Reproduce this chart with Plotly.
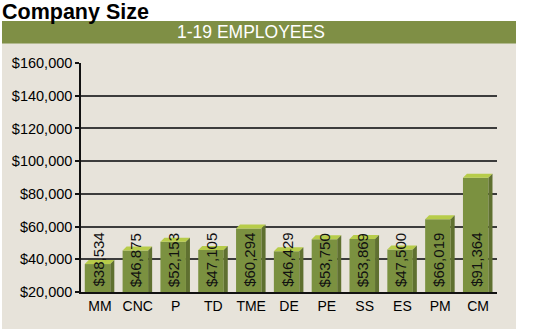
import plotly.graph_objects as go

categories = ["MM", "CNC", "P", "TD", "TME", "DE", "PE", "SS", "ES", "PM", "CM"]
salaries = [38534, 46875, 52153, 47105, 60294, 46429, 53750, 53869, 47500, 66019, 91364]
value_labels = ["$38,534", "$46,875", "$52,153", "$47,105", "$60,294", "$46,429",
                "$53,750", "$53,869", "$47,500", "$66,019", "$91,364"]
y_ticks = [20000, 40000, 60000, 80000, 100000, 120000, 140000, 160000]
y_tick_labels = ["$20,000", "$40,000", "$60,000", "$80,000", "$100,000",
                 "$120,000", "$140,000", "$160,000"]
title_text = "Company Size"
banner_text = "1-19 EMPLOYEES"

W, H = 540, 331
ML, MR, MT, MB = 81, 43, 63, 39
plot_w = W - ML - MR
plot_h = H - MT - MB
y_min, y_max = 20000, 160000
n = len(categories)

px_per_unit_x = plot_w / n
px_per_unit_y = plot_h / (y_max - y_min)
depth_x = 4 / px_per_unit_x
depth_y = 4 / px_per_unit_y

bar_width = 0.675
bar_offset = -0.40

FRONT = "#7b9140"
TOP = "#b7cc4a"
SIDE = "#5f7030"
BANNER = "#7f8f45"
PANEL = "#e7e3da"

front_tops = [v - 0.6 * depth_y for v in salaries]

fig = go.Figure()
fig.add_trace(go.Bar(
    x=list(range(n)),
    y=[t - y_min for t in front_tops],
    base=y_min,
    width=bar_width,
    offset=bar_offset,
    marker=dict(color=FRONT, line=dict(width=0)),
    hoverinfo="skip",
))

shapes = []
px_to_paper_x = lambda p: (p - ML) / plot_w
px_to_paper_y = lambda p: (H - MB - p) / plot_h
shapes.append(dict(type="rect", xref="paper", yref="paper",
                   x0=px_to_paper_x(2), x1=px_to_paper_x(516),
                   y0=px_to_paper_y(329), y1=px_to_paper_y(43),
                   fillcolor=PANEL, line=dict(width=0), layer="below"))
shapes.append(dict(type="rect", xref="paper", yref="paper",
                   x0=px_to_paper_x(2), x1=px_to_paper_x(516),
                   y0=px_to_paper_y(43.5), y1=px_to_paper_y(21),
                   fillcolor=BANNER, line=dict(width=0), layer="below"))

for i, t in enumerate(front_tops):
    x0 = i + bar_offset
    x1 = x0 + bar_width
    shapes.append(dict(type="path", xref="x", yref="y",
                       path=f"M {x0},{t} L {x1},{t} L {x1 + depth_x},{t + depth_y} L {x0 + depth_x},{t + depth_y} Z",
                       fillcolor=TOP, line=dict(width=0), layer="above"))
    shapes.append(dict(type="path", xref="x", yref="y",
                       path=f"M {x1},{y_min} L {x1},{t} L {x1 + depth_x},{t + depth_y} L {x1 + depth_x},{y_min} Z",
                       fillcolor=SIDE, line=dict(width=0), layer="above"))

annotations = [
    dict(text=f"<b>{title_text}</b>", xref="paper", yref="paper",
         x=px_to_paper_x(0), y=px_to_paper_y(-2), xanchor="left", yanchor="top",
         showarrow=False,
         font=dict(family="Liberation Sans, Arial, sans-serif", size=21.5, color="#000000")),
    dict(text=banner_text, xref="paper", yref="paper",
         x=px_to_paper_x(251), y=px_to_paper_y(32.5), xanchor="center", yanchor="middle",
         showarrow=False,
         font=dict(family="Liberation Sans, Arial, sans-serif", size=17.5, color="#ffffff")),
]
for i, lab in enumerate(value_labels):
    annotations.append(dict(
        text=lab, x=i + bar_offset + bar_width / 2, y=y_min, xref="x", yref="y",
        xanchor="center", yanchor="bottom", yshift=3, textangle=-90,
        showarrow=False,
        font=dict(family="Liberation Sans, Arial, sans-serif", size=15, color="#111111"),
    ))

fig.update_layout(
    width=W, height=H,
    margin=dict(l=ML, r=MR, t=MT, b=MB, pad=0),
    paper_bgcolor="#ffffff",
    plot_bgcolor="rgba(0,0,0,0)",
    showlegend=False,
    shapes=shapes,
    annotations=annotations,
    xaxis=dict(
        range=[-0.5, n - 0.5],
        tickmode="array",
        tickvals=list(range(n)),
        ticktext=categories,
        showgrid=False,
        zeroline=False,
        showline=True, linecolor="#111111", linewidth=1.5,
        ticks="",
        tickfont=dict(family="Liberation Sans, Arial, sans-serif", size=14, color="#000000"),
        fixedrange=True,
    ),
    yaxis=dict(
        range=[y_min, y_max],
        tickmode="array",
        tickvals=y_ticks,
        ticktext=y_tick_labels,
        showgrid=True, gridcolor="#3c3c3c", gridwidth=1.5,
        zeroline=False,
        showline=True, linecolor="#111111", linewidth=1.5,
        ticks="outside", ticklen=4, tickcolor="#111111", tickwidth=1.5,
        tickfont=dict(family="Liberation Sans, Arial, sans-serif", size=14.5, color="#000000"),
        fixedrange=True,
    ),
)

fig.write_html("out.html")
